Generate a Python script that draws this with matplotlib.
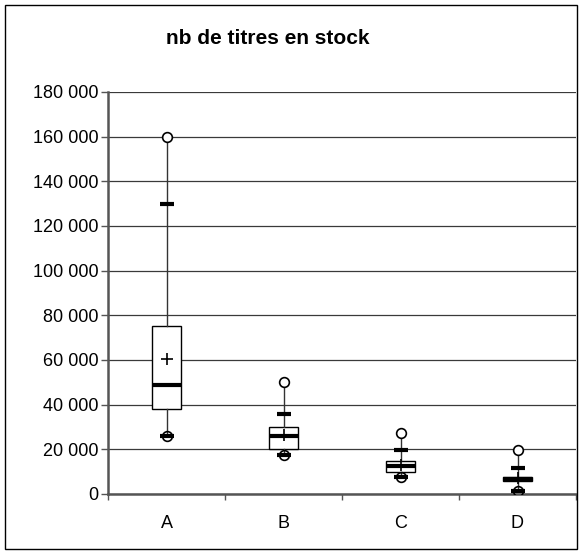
import matplotlib
matplotlib.use("Agg")
import matplotlib.pyplot as plt
from matplotlib.patches import Rectangle
from matplotlib.ticker import FuncFormatter

plt.rcParams['font.family'] = ['Liberation Sans', 'DejaVu Sans']

# stock statistics per group
groupes = ['A', 'B', 'C', 'D']
minimum = [26000, 17500, 7500, 1500]
decile1 = [26000, 17500, 7500, 1500]
quartile1 = [38200, 20100, 10000, 5600]
mediane = [49000, 26000, 12600, 6500]
moyenne = [60500, 26200, 13000, 7200]
quartile3 = [75400, 30200, 15000, 7500]
decile9 = [130000, 36000, 19800, 11800]
maximum = [160000, 50200, 27200, 19800]

fig = plt.figure(figsize=(5.81, 5.54), dpi=100)
ax = fig.add_axes([108/581, 1 - 494/554, 468/581, 402/554])

pos = list(range(len(groupes)))
stats = []
for i, g in enumerate(groupes):
    stats.append(dict(label=g, med=mediane[i], mean=moyenne[i], q1=quartile1[i],
                      q3=quartile3[i], whislo=minimum[i], whishi=maximum[i], fliers=[]))

ax.bxp(stats, positions=pos, widths=0.245, showcaps=False, showmeans=True,
       showfliers=False, patch_artist=True,
       boxprops=dict(facecolor='white', edgecolor='black', linewidth=1),
       whiskerprops=dict(color='#333333', linewidth=1),
       medianprops=dict(color='black', linewidth=3),
       meanprops=dict(marker='+', markeredgecolor='black', markersize=9, markeredgewidth=1.2),
       zorder=3)

# deciles as short thick dashes
ax.plot(pos, decile9, ls='none', marker='_', ms=10, mew=3, color='black', zorder=4)
ax.plot(pos, decile1, ls='none', marker='_', ms=10, mew=3, color='black', zorder=4)
# extremes as open circles
ax.plot(pos, maximum, ls='none', marker='o', ms=7, mfc='white', mec='black', mew=1.2, zorder=5)
ax.plot(pos, minimum, ls='none', marker='o', ms=7, mfc='none', mec='black', mew=1.2, zorder=5)

ax.set_xlim(-0.5, len(groupes) - 0.5)
ax.set_ylim(0, 180000)
ax.set_yticks(range(0, 180001, 20000))
ax.yaxis.set_major_formatter(FuncFormatter(lambda v, p: f"{int(v):,}".replace(',', ' ')))
ax.yaxis.grid(True, color='#3a3a3a', linewidth=0.9)
ax.set_axisbelow(True)

ax.set_xticks([i + 0.5 for i in range(-1, len(groupes))])
ax.set_xticklabels([])
ax.set_xticks(pos, minor=True)
ax.set_xticklabels(groupes, minor=True)
ax.tick_params(axis='x', which='major', length=4, width=1, color='#555555')
ax.tick_params(axis='x', which='minor', length=0, pad=15, labelsize=13)
ax.tick_params(axis='y', length=5, width=1, color='#555555', pad=2, labelsize=13)

for s in ['top', 'right']:
    ax.spines[s].set_visible(False)
ax.spines['left'].set_color('#555555')
ax.spines['left'].set_linewidth(1.8)
ax.spines['bottom'].set_color('#555555')
ax.spines['bottom'].set_linewidth(1.8)

fig.text(268/581, 1 - 38/554, 'nb de titres en stock', ha='center', va='center',
         fontsize=15, fontweight='bold')

fig.patches.append(Rectangle((5/581, 1 - 549/554), 572/581, 544/554, transform=fig.transFigure,
                             fill=False, edgecolor='black', linewidth=1))

fig.savefig('out.png', dpi=100)
